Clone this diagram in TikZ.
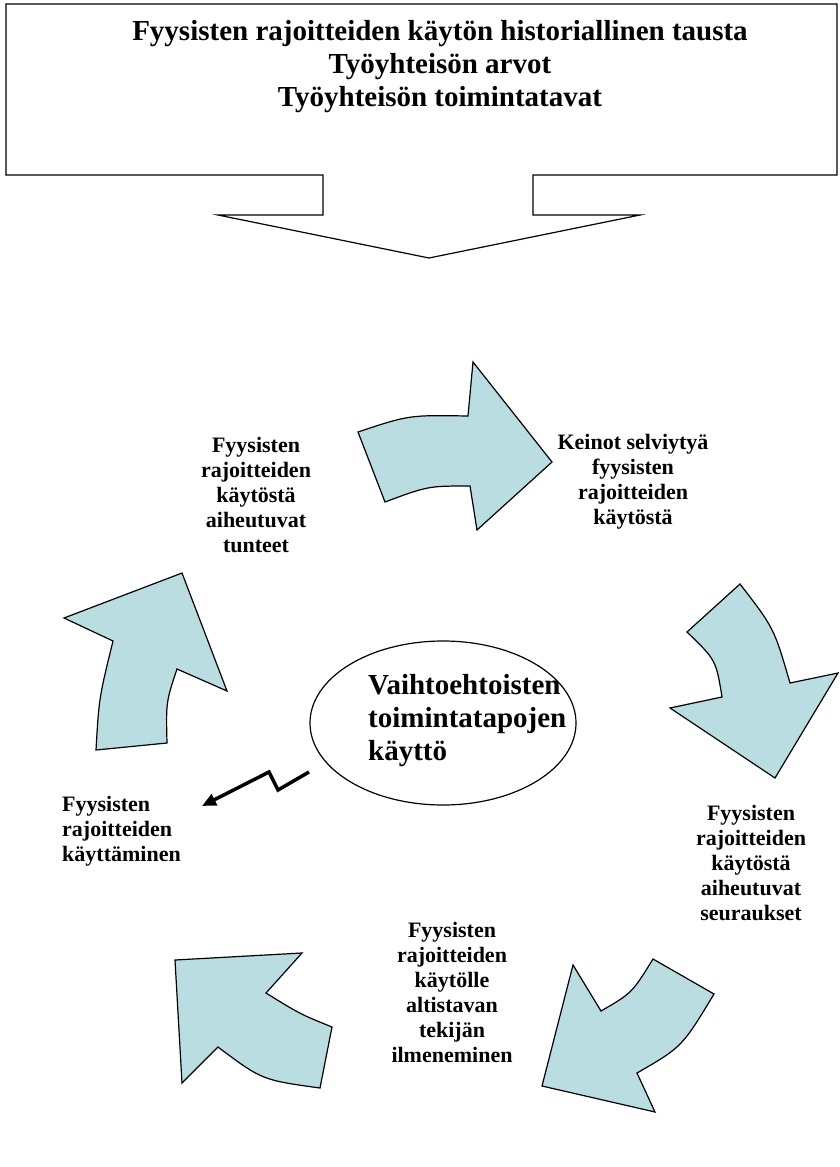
\documentclass[tikz,border=0pt]{standalone}
\usepackage{fontspec}
\setmainfont{Liberation Serif}
\usetikzlibrary{arrows.meta,shapes.geometric}

\definecolor{arrowfill}{RGB}{185,221,225}

\begin{document}
\begin{tikzpicture}[x=1pt,y=-1pt,line join=miter,
    cyclearrow/.style={draw,fill=arrowfill,line width=1.2pt},
    lbl/.style={align=center,inner sep=0pt,font=\bfseries\fontsize{22}{25}\selectfont},
    bigtxt/.style={inner sep=0pt,font=\bfseries\fontsize{29}{33}\selectfont}]
    \useasboundingbox (0,0) rectangle (839,1167);
    % top callout with downward arrow
    \draw[line width=1.2pt] (6,4) -- (837,4) -- (837,175) -- (533,175) -- (533,215)
        -- (640,215) -- (429,258) -- (218,215) -- (323,215) -- (323,175) -- (6,175) -- cycle;
    \node[bigtxt,align=center] (tausta) at (440,67)
        {Fyysisten rajoitteiden käytön historiallinen tausta\\Työyhteisön arvot\\Työyhteisön toimintatavat};
    % centre
    \node[draw,ellipse,line width=1.2pt,minimum width=266pt,minimum height=164pt] (keski) at (443,723) {};
    \node[bigtxt,align=left,anchor=west] (vaihto) at (368,721)
        {Vaihtoehtoisten\\toimintatapojen\\käyttö};
    % the cycle
    \draw[cyclearrow] (358,432) .. controls (409,415) .. (468,416) -- (473,362) -- (552,462)
        -- (477,530) -- (470,486) .. controls (428,486) .. (385,502) -- cycle;
    \draw[cyclearrow] (740,584) .. controls (774,628) .. (790,683) -- (838,673) -- (775,778)
        -- (670,708) -- (722,697) .. controls (716,660) .. (687,632) -- cycle;
    \draw[cyclearrow] (573,965) -- (601,1011) .. controls (632,993) .. (653,959) -- (714,994)
        .. controls (682,1047) .. (637,1073) -- (655,1112) -- (542,1086) -- cycle;
    \draw[cyclearrow] (175,960) -- (302,953) -- (266,993) .. controls (300,1014) .. (332,1027)
        -- (320,1088) .. controls (262,1080) .. (218,1047) -- (182,1083) -- cycle;
    \draw[cyclearrow] (64,618) -- (182,573) -- (227,691) -- (177,669) .. controls (166,702) .. (167,743)
        -- (96,750) .. controls (99,698) .. (113,641) -- cycle;
    % labels
    \node[lbl] (tunteet) at (256,495) {Fyysisten\\rajoitteiden\\käytöstä\\aiheutuvat\\tunteet};
    \node[lbl] (keinot) at (633,482) {Keinot selviytyä\\fyysisten\\rajoitteiden\\käytöstä};
    \node[lbl] (seuraukset) at (751,863) {Fyysisten\\rajoitteiden\\käytöstä\\aiheutuvat\\seuraukset};
    \node[lbl] (tekija) at (452,992) {Fyysisten\\rajoitteiden\\käytölle\\altistavan\\tekijän\\ilmeneminen};
    \node[lbl,align=left,anchor=west] (kaytto) at (62,831) {Fyysisten\\rajoitteiden\\käyttäminen};
    % lightning arrow
    \coordinate (salama) at (309,772);
    \coordinate (salamakarki) at (202,806);
    \draw[line width=3.5pt,-{Triangle[length=14pt,width=12pt]}] (salama) -- (278,790) -- (269,772) -- (salamakarki);
\end{tikzpicture}
\end{document}
